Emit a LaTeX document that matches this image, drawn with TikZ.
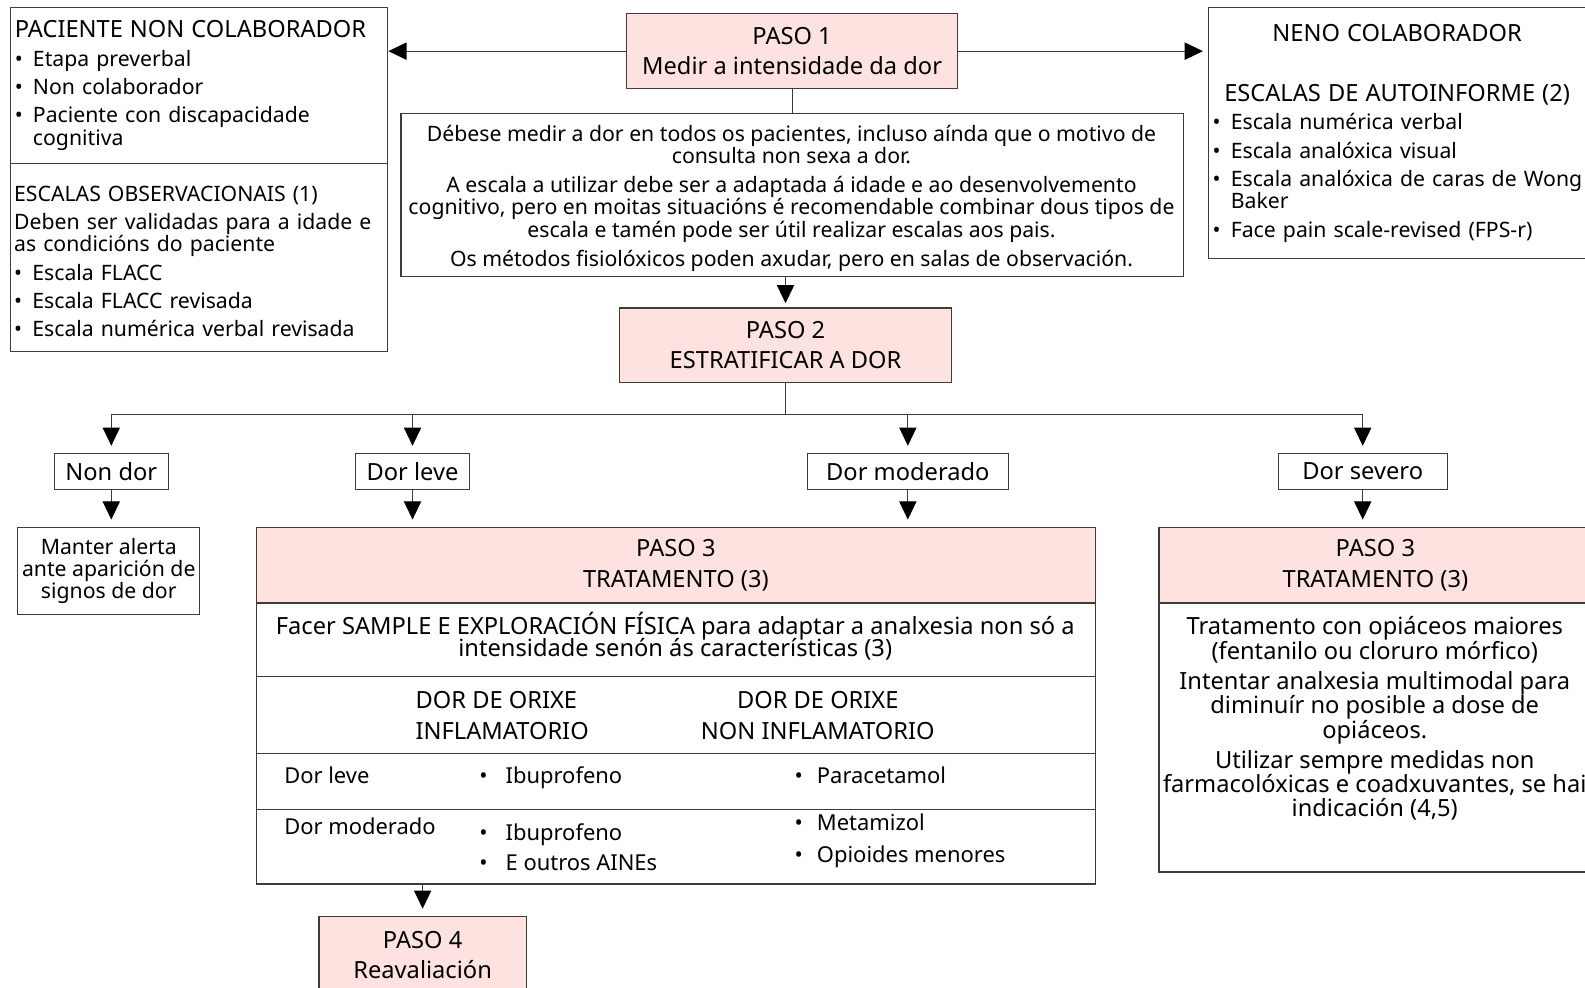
\documentclass[tikz,border=0pt]{standalone}
\usepackage{fontspec}
\setmainfont{Noto Sans}
\usetikzlibrary{arrows.meta}

\definecolor{pasofill}{RGB}{254,226,224}
\definecolor{edge}{RGB}{60,60,60}
\newcommand{\bitem}[2][18pt]{\makebox[#1][l]{•}#2}
\newcommand{\bindent}{\hspace*{18pt}}
\newcommand{\headfont}{\fontsize{23.4}{24}\selectfont}

\begin{document}
\begin{tikzpicture}[x=1pt, y=-1pt,
  every node/.style = {font=\fontsize{21}{22}\selectfont, inner sep=0pt},
  big/.style = {font=\headfont},
  box/.style = {draw=edge, line width=1.2pt, anchor=north west, align=center, inner xsep=4pt},
  paso/.style = {box, big, fill=pasofill},
  level/.style = {box, big, minimum height=36pt},
  cell/.style = {anchor=mid west, font=\fontsize{21.7}{22}\selectfont},
  link/.style = {line width=1.2pt, draw=edge},
  arr/.style = {link, -{Triangle[length=18pt, width=17pt, black]}, shorten >=7pt}
]

% Page
\path[use as bounding box, fill=white] (0,0) rectangle (1568,977);

% Left column
\node[box, align=left, text width=365pt, minimum height=154pt] (noncol) at (10,7) {{\headfont PACIENTE NON COLABORADOR}\\[6pt]\bitem{Etapa preverbal}\\[6pt]\bitem{Non colaborador}\\[6pt]\bitem{Paciente con discapacidade}\\\bindent cognitiva};
\node[box, minimum width=373pt, minimum height=186pt] (escobs) at (10,161) {};
\node[align=left, text width=365pt] (escobstxt) at (196.5,258.5) {ESCALAS OBSERVACIONAIS (1)\\[6pt]Deben ser validadas para a idade e\\as condicións do paciente\\[6pt]\bitem{Escala FLACC}\\[6pt]\bitem{Escala FLACC revisada}\\[6pt]\bitem{Escala numérica verbal revisada}};

% Step 1
\node[paso, minimum width=328pt, minimum height=74pt] (paso1) at (619,13) {PASO 1\\[6pt]Medir a intensidade da dor};
\node[box, minimum width=774pt, minimum height=161pt] (info) at (396,112) {};
\node[align=center] (infotxt) at (783,196) {Débese medir a dor en todos os pacientes, incluso aínda que o motivo de\\consulta non sexa a dor.\\[7pt]A escala a utilizar debe ser a adaptada á idade e ao desenvolvemento\\cognitivo, pero en moitas situacións é recomendable combinar dous tipos de\\escala e tamén pode ser útil realizar escalas aos pais.\\[7pt]Os métodos fisiolóxicos poden axudar, pero en salas de observación.};

% Right column
\node[box, align=left, text width=365pt, minimum height=248pt] (neno) at (1195,7) {\makebox[365pt]{\headfont NENO COLABORADOR}\\[38pt]\makebox[365pt]{\headfont ESCALAS DE AUTOINFORME (2)}\\[6pt]\bitem{Escala numérica verbal}\\[6pt]\bitem{Escala analóxica visual}\\[6pt]\mbox{\bitem{Escala analóxica de caras de Wong}}\\\bindent Baker\\[6pt]\bitem{Face pain scale-revised (FPS-r)}};

% Step 2 and levels
\node[paso, minimum width=329pt, minimum height=74pt] (paso2) at (612,304) {PASO 2\\[6pt]ESTRATIFICAR A DOR};
\node[level, minimum width=113pt] (nondor) at (53,448) {Non dor};
\node[level, minimum width=113pt] (leve) at (351,448) {Dor leve};
\node[level, minimum width=199pt] (moderado) at (798,448) {Dor moderado};
\node[level, minimum width=167pt] (severo) at (1264,448) {Dor severo};
\node[box, minimum width=180pt, minimum height=86pt] (manter) at (17,521) {Manter alerta\\ante aparición de\\signos de dor};

% Step 3, mild and moderate
\node[paso, minimum width=830pt, minimum height=75pt] (tratA) at (253,521) {PASO 3\\[6pt]TRATAMENTO (3)};
\node[box, minimum width=830pt, minimum height=73pt] (sample) at (253,596) {};
\node[big, align=center] (sampletxt) at (668,629) {Facer SAMPLE E EXPLORACIÓN FÍSICA para adaptar a analxesia non só a\\[-2pt]intensidade senón ás características (3)};
\node[box, minimum width=830pt, minimum height=76pt] (orixe) at (253,669) {};
\node[box, minimum width=830pt, minimum height=55pt] (rowleve) at (253,745) {};
\node[box, minimum width=830pt, minimum height=74pt] (rowmod) at (253,800) {};
\node[big, anchor=west, align=left] (infl) at (411,708) {DOR DE ORIXE\\[7pt]INFLAMATORIO};
\node[big, align=center] (noninfl) at (809,708) {DOR DE ORIXE\\[7pt]NON INFLAMATORIO};
\node[cell] (levelab) at (281,772) {Dor leve};
\node[cell] (leveA) at (474,772) {\bitem[26pt]{Ibuprofeno}};
\node[cell] (leveB) at (786,772) {\bitem[22pt]{Paracetamol}};
\node[cell] (modlab) at (281,823) {Dor moderado};
\node[cell, anchor=west, align=left] (modA) at (474,838) {\bitem[26pt]{Ibuprofeno}\\[8pt]\bitem[26pt]{E outros AINEs}};
\node[cell, anchor=west, align=left] (modB) at (786,832) {\bitem[22pt]{Metamizol}\\[10pt]\bitem[22pt]{Opioides menores}};

% Step 3, severe
\node[paso, minimum width=428pt, minimum height=75pt] (tratB) at (1146,521) {PASO 3\\[6pt]TRATAMENTO (3)};
\node[box, minimum width=428pt, minimum height=266pt] (sevbody) at (1146,596) {};
\node[big, anchor=north, align=center] (sevtxt) at (1360,610) {Tratamento con opiáceos maiores\\(fentanilo ou cloruro mórfico)\\[6pt]Intentar analxesia multimodal para\\diminuír no posible a dose de\\opiáceos.\\[6pt]Utilizar sempre medidas non\\farmacolóxicas e coadxuvantes, se hai\\indicación (4,5)};

% Step 4
\node[paso, minimum width=205pt, minimum height=76pt] (paso4) at (315,906) {PASO 4\\[6pt]Reavaliación};

% Connectors
\draw[arr, shorten >=0pt] (paso1.west) -- (paso1.west -| noncol.east);
\draw[arr, shorten >=5pt] (paso1.east) -- (paso1.east -| neno.west);
\draw[link] (paso1.south) -- (paso1.south |- info.north);
\draw[arr, shorten >=4pt] (paso2.north |- info.south) -- (paso2.north);
\coordinate (bus) at (780,410);
\draw[link] (paso2.south) -- (paso2.south |- bus);
\draw[link] (nondor.north |- bus) -- (severo.north |- bus);
\foreach \n in {nondor, leve, moderado, severo}
  \draw[arr] (\n.north |- bus) -- (\n.north);
\draw[arr] (nondor.south) -- (nondor.south |- manter.north);
\foreach \n in {leve, moderado}
  \draw[arr] (\n.south) -- (\n.south |- tratA.north);
\draw[arr] (severo.south) -- (severo.south |- tratB.north);
\draw[arr] (paso4.north |- rowmod.south) -- (paso4.north);

\end{tikzpicture}
\end{document}
